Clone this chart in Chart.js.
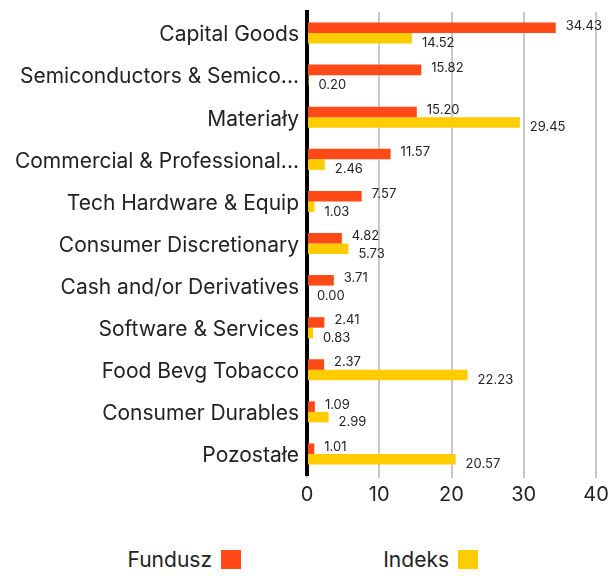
<!DOCTYPE html>
<html><head><meta charset="utf-8">
<script src="https://cdn.jsdelivr.net/npm/chart.js@4/dist/chart.umd.min.js"></script>
<style>
html,body{margin:0;padding:0;background:#fff;width:609px;height:576px;overflow:hidden;font-family:Inter,Roboto,sans-serif;}
#wrap{position:absolute;left:0;top:0;width:609px;height:520px;}
.lt{position:absolute;top:547px;font-size:21px;line-height:26px;color:#222;text-align:right;}
.lb{position:absolute;top:550px;width:20px;height:19px;}
</style></head>
<body>
<div id="wrap"><canvas id="c" width="609" height="520"></canvas></div>
<div class="lt" style="right:397px">Fundusz</div><div class="lb" style="left:221px;background:#FF4A17"></div>
<div class="lt" style="right:160px">Indeks</div><div class="lb" style="left:458px;background:#FFCC00"></div>
<script>
const categories = ["Capital Goods","Semiconductors & Semico...","Materiały","Commercial & Professional...","Tech Hardware & Equip","Consumer Discretionary","Cash and/or Derivatives","Software & Services","Food Bevg Tobacco","Consumer Durables","Pozostałe"];
const fundusz = [34.43,15.82,15.20,11.57,7.57,4.82,3.71,2.41,2.37,1.09,1.01];
const indeks = [14.52,0.20,29.45,2.46,1.03,5.73,0.00,0.83,22.23,2.99,20.57];
const xTicks = [0,10,20,30,40];
const seriesNames = ["Fundusz","Indeks"];
const FONT = 'Inter, Roboto, sans-serif';

const labelPlugin = {
  id:'lbl',
  afterDatasetsDraw(chart){
    const ctx = chart.ctx;
    ctx.save();
    ctx.font = '13px ' + FONT;
    ctx.fillStyle = '#222';
    ctx.textAlign = 'left';
    ctx.textBaseline = 'middle';
    chart.data.datasets.forEach((ds,di)=>{
      const meta = chart.getDatasetMeta(di);
      meta.data.forEach((bar,i)=>{
        const dy = di===0 ? -2 : 5;
        ctx.fillText(ds.data[i].toFixed(2), bar.x + 10, bar.y + dy);
      });
    });
    ctx.restore();
  }
};

new Chart(document.getElementById('c'),{
  type:'bar',
  data:{labels:categories,datasets:[
    {label:seriesNames[0],data:fundusz,backgroundColor:'#FF4A17',barPercentage:1,categoryPercentage:0.5},
    {label:seriesNames[1],data:indeks,backgroundColor:'#FFCC00',barPercentage:1,categoryPercentage:0.5}
  ]},
  options:{
    indexAxis:'y',responsive:false,animation:false,
    layout:{padding:{top:12,right:13,bottom:8,left:0}},
    plugins:{legend:{display:false},tooltip:{enabled:false}},
    scales:{
      x:{min:0,max:40,afterBuildTicks(s){s.ticks=xTicks.map(v=>({value:v}));},
        afterFit(s){s.paddingRight=0;s.paddingLeft=0;},
        grid:{color:'#c8c8c8',lineWidth:2,drawTicks:true,tickLength:3,tickColor:'#c8c8c8'},
        border:{display:false},
        ticks:{color:'#222',font:{size:20,family:FONT},padding:5,maxRotation:0}
      },
      y:{grid:{display:false,drawTicks:false},border:{display:true,color:'#000',width:4},
        afterFit(s){s.width=307;s.paddingTop=0;s.paddingBottom=0;},
        ticks:{color:'#222',font:{size:21,family:FONT},padding:8,labelOffset:2}
      }
    }
  },
  plugins:[labelPlugin]
});
</script>
</body></html>
